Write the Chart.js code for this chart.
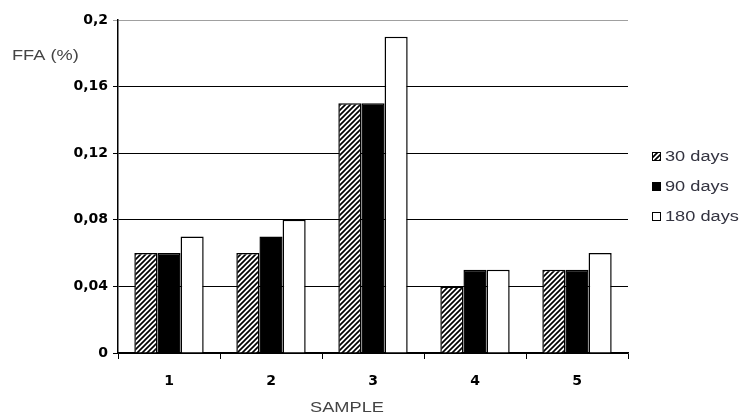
<!DOCTYPE html>
<html>
<head>
<meta charset="utf-8">
<script src="https://cdn.jsdelivr.net/npm/chart.js@4.4.1/dist/chart.umd.min.js"></script>
<style>
  html, body { margin: 0; padding: 0; background: #fff; }
</style>
</head>
<body>
<canvas id="ffaChart" width="747" height="418"></canvas>
<script>
const samples = ['1', '2', '3', '4', '5'];
const days30 = [0.06, 0.06, 0.15, 0.04, 0.05];
const days90 = [0.06, 0.07, 0.15, 0.05, 0.05];
const days180 = [0.07, 0.08, 0.19, 0.05, 0.06];
const seriesLabels = ['30 days', '90 days', '180 days'];
const yTicks = [0, 0.04, 0.08, 0.12, 0.16, 0.2];
const yTickLabels = ['0', '0,04', '0,08', '0,12', '0,16', '0,2'];

// hatch fill for the 30 days bars
function makeHatch() {
  const c = document.createElement('canvas');
  c.width = 5;
  c.height = 5;
  const g = c.getContext('2d');
  g.fillStyle = '#fff';
  g.fillRect(0, 0, 5, 5);
  g.strokeStyle = '#000';
  g.lineWidth = 1.7;
  g.beginPath();
  g.moveTo(0, 5); g.lineTo(5, 0);
  g.moveTo(-1, 1); g.lineTo(1, -1);
  g.moveTo(4, 6); g.lineTo(6, 4);
  g.stroke();
  return g.createPattern(c, 'repeat');
}
const hatch = makeHatch();

// stretched text like the original picture
function wideText(ctx, text, x, y, font, color, align) {
  ctx.save();
  ctx.font = font;
  ctx.fillStyle = color;
  ctx.textBaseline = 'middle';
  ctx.textAlign = align || 'left';
  ctx.translate(x, y);
  ctx.scale(1.3, 1);
  ctx.fillText(text, 0, 0);
  ctx.restore();
}

const extraText = {
  id: 'extraText',
  afterDraw(chart) {
    const ctx = chart.ctx;
    const f = '14px "Liberation Sans", Arial, sans-serif';
    wideText(ctx, 'FFA (%)', 12, 56, f, '#444', 'left');
    wideText(ctx, 'SAMPLE', 347, 408, f, '#444', 'center');

    chart.data.datasets.forEach((ds, i) => {
      const y = 157 + i * 30;
      ctx.save();
      ctx.fillStyle = ds.backgroundColor;
      ctx.fillRect(652, y - 5, 9, 9);
      ctx.strokeStyle = '#000';
      ctx.lineWidth = 1;
      ctx.strokeRect(652.5, y - 4.5, 8, 8);
      ctx.restore();
      wideText(ctx, ds.label, 665, y, f, '#333340', 'left');
    });
  }
};

new Chart(document.getElementById('ffaChart'), {
  type: 'bar',
  data: {
    labels: samples,
    datasets: [
      { label: seriesLabels[0], data: days30, backgroundColor: hatch },
      { label: seriesLabels[1], data: days90, backgroundColor: '#000' },
      { label: seriesLabels[2], data: days180, backgroundColor: '#fff' }
    ]
  },
  options: {
    responsive: false,
    animation: false,
    layout: { padding: { left: 0, top: 20, right: 119, bottom: 0 } },
    datasets: {
      bar: {
        borderColor: '#000',
        borderWidth: 1.5,
        categoryPercentage: 0.68,
        barPercentage: 1
      }
    },
    plugins: {
      legend: { display: false },
      tooltip: { enabled: false }
    },
    scales: {
      x: {
        afterFit(scale) { scale.height = 65; },
        grid: {
          offset: true,
          drawOnChartArea: false,
          drawTicks: true,
          tickLength: 6,
          color: '#000'
        },
        border: { color: '#000', width: 1.5 },
        ticks: {
          color: '#000',
          padding: 14,
          font: { family: '"DejaVu Sans", sans-serif', size: 14, weight: 'bold' }
        }
      },
      y: {
        min: 0,
        max: 0.2,
        afterFit(scale) { scale.width = 118; },
        afterBuildTicks(scale) {
          scale.ticks = yTicks.map(v => ({ value: v }));
        },
        grid: {
          color: ctx => (ctx.tick && ctx.tick.value === 0.2) ? '#a0a0a0' : '#000',
          tickLength: 5,
          lineWidth: 1
        },
        border: { color: '#000', width: 1.5 },
        ticks: {
          color: '#000',
          padding: 5,
          font: { family: '"DejaVu Sans", sans-serif', size: 14, weight: 'bold' },
          callback: (value, index) => yTickLabels[index]
        }
      }
    }
  },
  plugins: [extraText]
});
</script>
</body>
</html>
